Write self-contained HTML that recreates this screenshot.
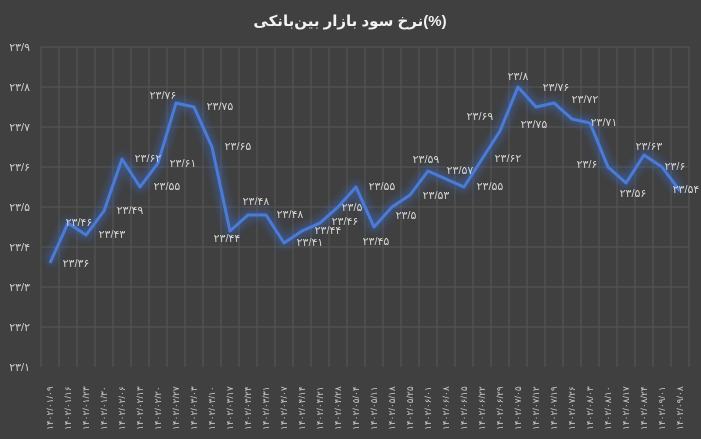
<!DOCTYPE html>
<html><head><meta charset="utf-8"><style>
html,body{margin:0;padding:0;background:#404040;}
svg{display:block;}
text{font-family:"Liberation Sans","DejaVu Sans",sans-serif;}
</style></head><body>
<svg id="s" width="701" height="439" viewBox="0 0 701 439" xmlns="http://www.w3.org/2000/svg">
<defs>
<filter id="g" x="-10%" y="-10%" width="120%" height="120%"><feGaussianBlur stdDeviation="4"/></filter>
</defs>
<rect width="701" height="439" fill="#404040"/>
<text x="350" y="26" fill="#f2f2f2" font-size="15" font-weight="bold" text-anchor="middle" font-family="'DejaVu Sans',sans-serif">نرخ سود بازار بین‌بانکی(%)</text>
<g id="grid" stroke="#575757" stroke-width="1"></g>
<g id="yl" fill="#d0d0d0" font-size="11" text-anchor="end"></g>
<g id="xl" fill="#c8c8c8" font-size="9"></g>
<polyline id="glow" fill="none" stroke="#3a6fd8" stroke-width="9" stroke-opacity="0.45" filter="url(#g)" stroke-linejoin="round"/>
<polyline id="ln" fill="none" stroke="#4a7bd6" stroke-width="3" stroke-linejoin="round"/>
<g id="dl" fill="#d4d4d4" font-size="11" text-anchor="middle"></g>
</svg>
<script>
const NS="http://www.w3.org/2000/svg";
const fa=s=>s.replace(/\d/g,d=>"۰۱۲۳۴۵۶۷۸۹"[d]);
const Y=v=>47+(23.9-v)*400;
const X=i=>50+18*i;
const vals=[23.36,23.46,23.43,23.49,23.62,23.55,23.61,23.76,23.75,23.65,23.44,23.48,23.48,23.41,23.44,23.46,23.5,23.55,23.45,23.5,23.53,23.59,23.57,23.55,23.62,23.69,23.8,23.75,23.76,23.72,23.71,23.6,23.56,23.63,23.6,23.54];
const lp=[[76,267],[79,226],[112,238],[130,214],[148,162],[167,190],[183,167],[163,99],[220,110],[238,150],[227,242],[256,205],[290,218],[310,246],[328,234],[345,225],[352,211],[382,190],[376,245],[406,219],[436,199],[426,163],[460,174],[490,190],[508,162],[480,120],[518,80],[534,128],[556,91],[585,103],[604,126],[587,168],[633,197],[649,150],[675,170],[686,193]];
const dates=["01/09","01/16","01/23","01/30","02/06","02/13","02/20","02/27","03/03","03/10","03/17","03/24","03/31","04/07","04/14","04/21","04/28","05/04","05/11","05/18","05/25","06/01","06/08","06/15","06/22","06/29","07/05","07/12","07/19","07/26","08/03","08/10","08/17","08/24","09/01","09/08"];
function el(p,t,a,tx){const e=document.createElementNS(NS,t);for(const k in a)e.setAttribute(k,a[k]);if(tx)e.textContent=tx;document.getElementById(p).appendChild(e);}
for(let k=0;k<=8;k++){const v=23.1+k*0.1,y=Y(v);if(k>0)el("grid","line",{x1:41,x2:689,y1:y,y2:y});el("yl","text",{x:30,y:y+4},fa(v.toFixed(1).replace(/0$/,"").replace(".","/")));}
for(let i=0;i<=36;i++){const x=41+18*i;el("grid","line",{x1:x,x2:x,y1:47,y2:367});}
const pts=vals.map((v,i)=>X(i)+","+Y(v)).join(" ");
document.getElementById("glow").setAttribute("points",pts);
document.getElementById("ln").setAttribute("points",pts);
vals.forEach((v,i)=>{let s=String(v).replace(".","/");el("dl","text",{x:lp[i][0],y:lp[i][1]},fa(s));
el("xl","text",{x:0,y:0,transform:`translate(${X(i)+3},430) rotate(-90)`},fa("1402/"+dates[i]));});
</script>
</body></html>
